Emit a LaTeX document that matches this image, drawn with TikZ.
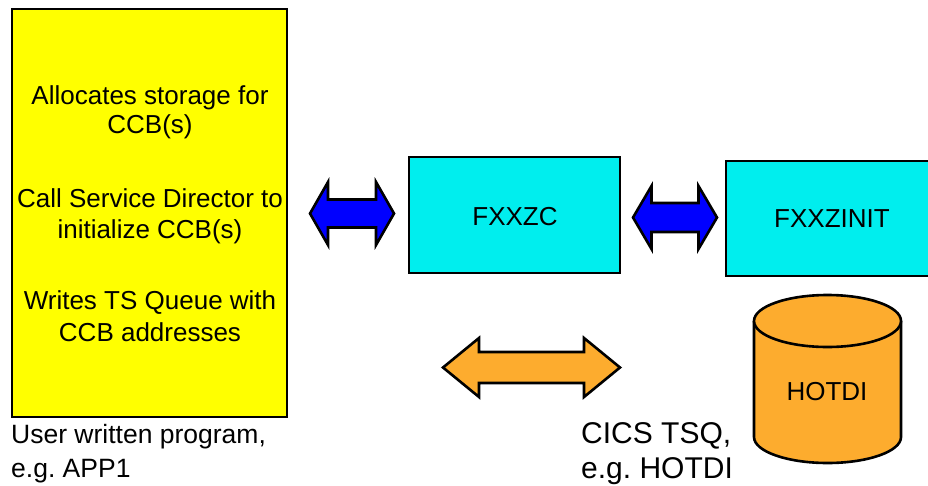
\documentclass[tikz,border=0pt]{standalone}
\usepackage{fontspec}
\setmainfont{Liberation Sans}
\frenchspacing
\begin{document}
\begin{tikzpicture}[x=1pt,y=-1pt,
  outl/.style={draw=black,line width=2.6pt},
  progbox/.style={outl,fill=progyellow},
  modbox/.style={outl,fill=modcyan},
  txt/.style={inner sep=0pt,font=\fontsize{26}{30}\selectfont},
  captxt/.style={inner sep=0pt,font=\fontsize{26.5}{31}\selectfont},
  bigtxt/.style={inner sep=0pt,font=\fontsize{30}{35}\selectfont},
  ]
\definecolor{progyellow}{RGB}{255,255,0}
\definecolor{modcyan}{RGB}{0,238,238}
\definecolor{arrblue}{RGB}{0,0,255}
\definecolor{qorange}{RGB}{253,172,46}
% block double arrow: #1 colour, #2 left x, #3 right x, #4 centre y,
% #5 half height of heads, #6 half height of shaft, #7 head length
\newcommand\blockdbl[7]{%
  \draw[outl,line join=miter,fill=#1]
    (#2,#4) -- (#2+#7,#4-#5) -- (#2+#7,#4-#6) -- (#3-#7,#4-#6) -- (#3-#7,#4-#5)
    -- (#3,#4) -- (#3-#7,#4+#5) -- (#3-#7,#4+#6) -- (#2+#7,#4+#6) -- (#2+#7,#4+#5) -- cycle;}

\useasboundingbox (0,0) rectangle (928,485);
\clip (0,0) rectangle (928,485);

% user program
\path[progbox] (12,9) rectangle (287,417);
\node[txt,anchor=base] (l1) at (150,104) {Allocates storage for};
\node[txt,anchor=base] (l2) at (150,133) {CCB(s)};
\node[txt,anchor=base] (l3) at (150,207) {Call Service Director to};
\node[txt,anchor=base] (l4) at (150,238) {initialize CCB(s)};
\node[txt,anchor=base] (l5) at (150,309) {Writes TS Queue with};
\node[txt,anchor=base] (l6) at (150,341) {CCB addresses};
\node[captxt,anchor=base west] (u1) at (11,443) {User written program,};
\node[captxt,anchor=base west] (u2) at (11,477) {e.g. APP1};

% modules
\path[modbox] (409,157) rectangle (620,273);
\node[txt,anchor=base] (fz) at (515,225) {FXXZC};
\path[modbox] (726,161) rectangle (940,276);
\node[txt,anchor=base] (fi) at (832,227) {FXXZINIT};

% arrows
\blockdbl{arrblue}{310}{394}{213.5}{31.5}{14}{18}
\blockdbl{arrblue}{633}{717}{217.5}{31.5}{14.5}{18.5}
\blockdbl{qorange}{443}{620}{367.5}{29.5}{15.5}{36}

% queue
\draw[outl,fill=qorange] (754,321) -- (754,437) arc[start angle=180,end angle=0,x radius=73.5,y radius=26] -- (901,321);
\draw[outl,fill=qorange] (827.5,321) ellipse[x radius=73.5,y radius=26];
\node[txt,anchor=base] (hq) at (827,400) {HOTDI};
\node[bigtxt,anchor=base west] (c1) at (581,443) {CICS TSQ,};
\node[bigtxt,anchor=base west] (c2) at (581,478) {e.g. HOTDI};
\end{tikzpicture}
\end{document}
